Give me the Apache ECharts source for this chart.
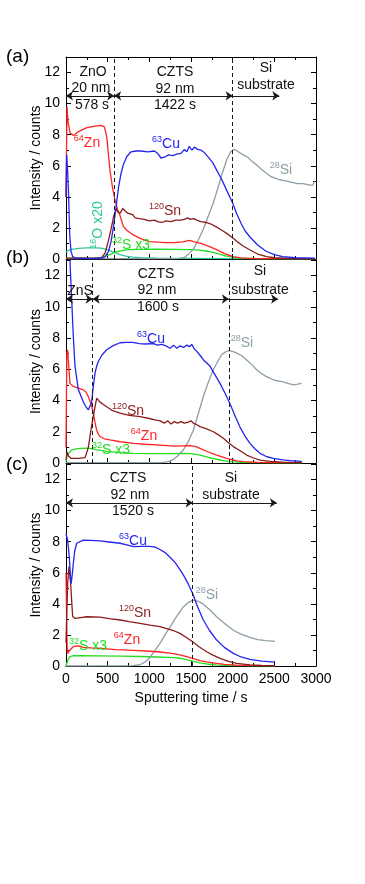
<!DOCTYPE html>
<html><head><meta charset="utf-8">
<script src="https://cdn.jsdelivr.net/npm/echarts@6/dist/echarts.min.js"></script>
<style>html,body{margin:0;padding:0;background:#fff}#c{width:365px;height:884px}</style>
</head><body><div id="c"></div>
<script>
// ---------------- data (sputtering time [s], intensity [counts]) ----------------
// panel (a) ZnO / CZTS / Si
const a_Zn = [[0,4.0],[12,9.8],[25,8.8],[50,8.1],[90,7.95],[150,8.2],[250,8.45],[350,8.55],[420,8.6],[460,8.5],[488,7.9],[528,5.7],[558,4.6],[588,3.8],[618,3.2],[648,2.8],[688,2.1],[728,1.85],[808,1.55],[888,1.33],[1000,1.12],[1100,1.08],[1200,1.05],[1300,1.06],[1400,1.1],[1480,1.2],[1540,1.1],[1620,1.0],[1700,0.85],[1808,0.6],[1900,0.35],[2008,0.15],[2100,0.07],[2250,0.03],[2500,0.02],[2985,0.02]];
const a_Cu = [[0,4.0],[8,6.7],[20,5.6],[30,4.3],[45,1.5],[60,0.5],[80,0.15],[120,0.05],[300,0.03],[430,0.05],[470,0.15],[510,0.5],[540,1.1],[570,2.1],[600,3.3],[630,4.6],[660,5.5],[690,6.1],[730,6.6],[780,6.9],[840,6.95],[900,6.95],[980,6.9],[1060,6.95],[1100,6.8],[1140,6.5],[1180,6.55],[1230,6.7],[1280,6.65],[1330,6.75],[1380,6.8],[1420,7.05],[1450,6.9],[1480,7.25],[1510,7.0],[1540,7.2],[1580,7.05],[1620,7.0],[1660,6.85],[1700,6.6],[1760,6.2],[1810,5.7],[1870,5.1],[1930,4.4],[2000,3.6],[2050,2.9],[2100,2.3],[2150,1.8],[2210,1.4],[2300,0.9],[2400,0.5],[2500,0.28],[2600,0.15],[2750,0.08],[2985,0.05]];
const a_Sn = [[0,0.05],[380,0.05],[430,0.1],[470,0.4],[510,1.2],[540,1.9],[570,2.7],[600,3.25],[625,3.0],[650,2.95],[680,3.25],[700,3.15],[740,2.95],[800,2.85],[830,2.65],[880,2.6],[940,2.55],[1000,2.45],[1060,2.5],[1100,2.4],[1150,2.35],[1200,2.45],[1260,2.4],[1320,2.5],[1380,2.5],[1420,2.55],[1460,2.65],[1490,2.55],[1530,2.6],[1570,2.5],[1620,2.4],[1680,2.35],[1740,2.25],[1808,2.05],[1870,1.85],[1928,1.65],[2008,1.33],[2060,1.1],[2120,0.85],[2208,0.58],[2300,0.32],[2408,0.15],[2500,0.08],[2700,0.04],[2985,0.03]];
const a_Si = [[0,0.02],[1350,0.02],[1420,0.1],[1470,0.3],[1530,0.65],[1590,1.25],[1650,1.95],[1710,2.8],[1770,3.65],[1830,4.7],[1880,5.6],[1930,6.4],[1970,6.85],[2010,7.05],[2040,7.0],[2080,6.85],[2130,6.7],[2180,6.55],[2240,6.25],[2290,6.05],[2350,5.75],[2410,5.5],[2460,5.3],[2510,5.2],[2560,5.1],[2620,5.05],[2700,4.95],[2780,4.85],[2850,4.85],[2920,4.75],[2960,4.75],[2985,5.0]];
const a_O  = [[0,0.45],[50,0.6],[150,0.68],[250,0.72],[350,0.72],[420,0.7],[480,0.62],[540,0.5],[600,0.38],[660,0.27],[720,0.18],[800,0.12],[900,0.08],[1100,0.05],[1500,0.04],[2000,0.03],[2985,0.02]];
const a_S  = [[0,0.05],[350,0.05],[420,0.08],[480,0.2],[540,0.32],[600,0.45],[680,0.55],[760,0.6],[900,0.62],[1100,0.63],[1300,0.62],[1500,0.6],[1600,0.57],[1700,0.5],[1808,0.36],[1900,0.22],[2008,0.1],[2100,0.05],[2300,0.03],[2985,0.02]];
const a_layers = [578, 2000];      // interface times (dashed lines)
const a_siArrowEnd = 2560;

// panel (b) ZnS / CZTS / Si
const b_Cu = [[0,15],[40,14],[55,12],[68,10.5],[88,8.1],[108,6.2],[148,4.7],[208,3.9],[240,3.6],[268,3.4],[290,3.5],[308,3.9],[325,4.8],[348,5.75],[368,6.2],[388,6.5],[430,6.9],[488,7.25],[560,7.5],[648,7.7],[720,7.72],[800,7.72],[880,7.65],[960,7.62],[1050,7.65],[1100,7.55],[1150,7.6],[1200,7.5],[1250,7.35],[1290,7.55],[1330,7.35],[1370,7.5],[1410,7.4],[1450,7.55],[1480,7.45],[1510,7.6],[1540,7.3],[1570,7.15],[1608,6.9],[1650,6.6],[1690,6.4],[1728,6.2],[1770,5.8],[1810,5.45],[1848,5.1],[1910,4.45],[1968,3.8],[2030,3.0],[2088,2.3],[2150,1.7],[2208,1.26],[2270,0.9],[2328,0.62],[2410,0.4],[2488,0.3],[2600,0.2],[2688,0.15],[2828,0.1]];
const b_Sn = [[0,0.2],[12,0.7],[30,0.45],[60,0.3],[150,0.3],[230,0.35],[248,0.45],[268,1.0],[288,1.7],[308,2.4],[328,3.0],[348,3.6],[368,4.15],[388,4.05],[408,3.9],[448,3.75],[488,3.6],[560,3.35],[648,3.2],[760,3.05],[888,2.97],[1000,2.85],[1080,2.75],[1130,2.7],[1180,2.55],[1220,2.7],[1260,2.5],[1300,2.65],[1340,2.55],[1380,2.65],[1420,2.55],[1460,2.6],[1500,2.7],[1530,2.55],[1570,2.45],[1608,2.33],[1680,2.2],[1768,2.0],[1830,1.8],[1888,1.58],[1950,1.3],[2008,1.05],[2090,0.78],[2168,0.51],[2250,0.32],[2328,0.19],[2450,0.1],[2600,0.06],[2828,0.04]];
const b_Zn = [[0,1.0],[10,7.0],[20,7.25],[35,6.0],[48,5.1],[88,4.9],[150,4.8],[208,4.68],[240,4.55],[268,4.25],[300,3.8],[328,3.2],[348,2.6],[368,2.1],[388,1.85],[408,1.7],[460,1.55],[528,1.48],[650,1.36],[808,1.26],[950,1.2],[1128,1.15],[1300,1.08],[1400,1.1],[1500,1.12],[1560,1.05],[1608,0.94],[1700,0.72],[1808,0.51],[1900,0.35],[1968,0.24],[2050,0.14],[2128,0.09],[2300,0.04],[2500,0.03],[2828,0.02]];
const b_S  = [[0,0.1],[15,0.5],[28,0.62],[68,0.83],[120,0.9],[168,0.94],[268,0.95],[368,0.85],[488,0.75],[650,0.66],[808,0.62],[1000,0.6],[1200,0.6],[1400,0.62],[1500,0.6],[1608,0.51],[1700,0.38],[1808,0.24],[1900,0.14],[1968,0.09],[2100,0.04],[2300,0.02],[2828,0.01]];
const b_Si = [[0,0.02],[1150,0.03],[1248,0.1],[1330,0.4],[1408,0.83],[1470,1.4],[1528,2.1],[1590,3.2],[1648,4.26],[1710,5.2],[1768,5.97],[1820,6.5],[1868,6.93],[1910,7.1],[1948,7.19],[2000,7.15],[2048,7.04],[2100,6.9],[2168,6.6],[2230,6.3],[2288,5.97],[2340,5.75],[2400,5.55],[2448,5.43],[2500,5.3],[2560,5.25],[2608,5.2],[2660,5.1],[2700,5.05],[2728,5.0],[2780,5.05],[2828,5.1]];
const b_layers = [320, 1955];
const b_siArrowEnd = 2545;

// panel (c) CZTS / Si
const c_Cu = [[0,8.5],[20,8.1],[40,7.0],[55,5.6],[62,5.3],[75,5.9],[88,6.6],[105,7.4],[128,7.9],[208,8.1],[300,8.08],[408,8.05],[520,7.98],[648,7.9],[730,7.8],[808,7.68],[900,7.7],[1008,7.7],[1070,7.65],[1128,7.5],[1190,7.3],[1248,7.0],[1310,6.65],[1368,6.2],[1420,5.75],[1470,5.25],[1520,4.67],[1580,3.8],[1648,2.96],[1720,2.3],[1808,1.67],[1900,1.2],[2008,0.81],[2100,0.58],[2208,0.43],[2350,0.32],[2508,0.25]];
const c_Sn = [[0,1.5],[10,3.5],[20,5.3],[36,6.4],[56,5.3],[70,4.0],[80,3.2],[108,3.06],[180,3.12],[248,3.17],[408,3.15],[520,3.05],[648,2.96],[760,2.85],[888,2.74],[1008,2.63],[1128,2.53],[1200,2.42],[1280,2.3],[1368,2.1],[1440,1.85],[1520,1.56],[1600,1.22],[1688,0.92],[1770,0.68],[1848,0.49],[1950,0.3],[2048,0.17],[2208,0.07],[2350,0.04],[2508,0.03]];
const c_Zn = [[0,6.0],[8,3.0],[16,0.8],[30,0.9],[48,1.03],[90,1.25],[128,1.29],[170,1.27],[208,1.2],[300,1.16],[408,1.13],[600,1.05],[808,1.0],[1008,0.95],[1128,0.9],[1248,0.83],[1368,0.72],[1448,0.6],[1528,0.47],[1608,0.35],[1688,0.26],[1808,0.17],[1900,0.11],[2048,0.06],[2250,0.03],[2508,0.02]];
const c_S  = [[0,0],[10,0.2],[28,0.45],[48,0.6],[88,0.66],[168,0.66],[408,0.65],[650,0.63],[888,0.61],[1100,0.58],[1288,0.54],[1368,0.5],[1448,0.41],[1528,0.3],[1608,0.2],[1688,0.13],[1800,0.07],[1900,0.04],[2100,0.02],[2508,0.01]];
const c_Si = [[0,0],[700,0.01],[800,0.03],[888,0.08],[960,0.3],[1008,0.55],[1068,1.0],[1128,1.46],[1188,2.0],[1248,2.5],[1328,3.2],[1408,3.8],[1470,4.1],[1528,4.24],[1580,4.18],[1648,3.98],[1728,3.6],[1808,3.17],[1900,2.75],[2008,2.3],[2100,2.05],[2208,1.84],[2300,1.7],[2400,1.63],[2508,1.59]];
const c_layers = [1520];
const c_siArrowEnd = 2530;

const xTicks = {min:0, max:3000, interval:500};
const yTicks = {min:0, max:13, interval:2};

// ---------------- styling / building ----------------
const FONT = '"Liberation Sans", Arial, sans-serif';
const COL = {Cu:'#2424ee', Zn:'#ff2424', Sn:'#8b1c1c', Si:'#8c9ea6', O:'#2fc89a', S:'#22dd22', ink:'#1a1a1a'};
const ARROW_Y = 10.5;

const grids = [
  {left:66, right:49, top:57, height:202},
  {left:66, right:49, top:260, height:203},
  {left:66, right:49, top:464, height:202}
];

function xAx(gi, extra) {
  return Object.assign({
    type:'value', gridIndex:gi, min:xTicks.min, max:xTicks.max, interval:xTicks.interval,
    axisLine:{show:true, onZero:false, lineStyle:{color:'#000', width:1}},
    axisTick:{show:true, inside:true, length:5, lineStyle:{color:'#000'}},
    minorTick:{show:true, splitNumber:2, length:3, lineStyle:{color:'#000'}},
    splitLine:{show:false}, minorSplitLine:{show:false},
    axisLabel:{show:false}
  }, extra || {});
}
function yAx(gi, right) {
  return {
    type:'value', gridIndex:gi, min:yTicks.min, max:yTicks.max, interval:yTicks.interval,
    position: right ? 'right' : 'left',
    axisLine:{show:true, onZero:false, lineStyle:{color:'#000', width:1}},
    axisTick:{show:true, inside:true, length:5, lineStyle:{color:'#000'}},
    minorTick:{show:true, splitNumber:2, length:3, lineStyle:{color:'#000'}},
    splitLine:{show:false}, minorSplitLine:{show:false},
    axisLabel: right ? {show:false} : {show:true, fontSize:14, color:'#000', fontFamily:FONT, margin:6, showMaxLabel:false,
      formatter: v => (v > 12.5 ? '' : String(v))},
    name: right ? '' : 'Intensity / counts', nameLocation:'middle', nameGap:23, nameMoveOverlap:false,
    nameTextStyle:{fontSize:14, color:'#000', fontFamily:FONT}
  };
}

const xAxis = [
  xAx(0),
  xAx(0, {position:'top'}),
  xAx(1),
  xAx(2, {axisLabel:{show:true, fontSize:14, color:'#000', fontFamily:FONT, margin:6, formatter: v => String(v)},
          name:'Sputtering time / s', nameLocation:'middle', nameGap:25, nameMoveOverlap:false,
          nameTextStyle:{fontSize:14, color:'#000', fontFamily:FONT}})
];
const yAxis = [yAx(0,false), yAx(0,true), yAx(1,false), yAx(1,true), yAx(2,false), yAx(2,true)];
const AX = [{x:0,y:0},{x:2,y:2},{x:3,y:4}];

function ln(data, color, p) {
  return {type:'line', data, xAxisIndex:AX[p].x, yAxisIndex:AX[p].y, showSymbol:false, symbol:'none',
    lineStyle:{color, width:1.3}, itemStyle:{color}, silent:true, clip:true, z:3};
}
function txt(t, v, sup, main, color, extra) {
  const rich = {
    s:{fontSize:9, color, fontFamily:FONT, verticalAlign:'top', lineHeight:10},
    m:{fontSize:14, color, fontFamily:FONT, lineHeight:18}
  };
  const label = Object.assign({show:true, position:'inside', color,
    formatter: sup ? '{s|' + sup + '}{m|' + main + '}' : '{m|' + main + '}', rich}, extra || {});
  return {coord:[t, v], symbol:'circle', symbolSize:1, itemStyle:{color:'rgba(0,0,0,0)'}, label};
}
function dashes(layers, p) {
  return {type:'line', data:[], xAxisIndex:AX[p].x, yAxisIndex:AX[p].y, silent:true,
    markLine:{silent:true, animation:false, symbol:['none','none'], label:{show:false},
      lineStyle:{color:COL.ink, type:[4,3], width:1},
      data: layers.map(t => [{coord:[t, yTicks.min]}, {coord:[t, yTicks.max]}])}};
}
function arrows(layers, siEnd, p) {
  const bounds = [0].concat(layers);
  const d = [];
  for (let i = 0; i < layers.length; i++) d.push([{coord:[bounds[i], ARROW_Y]}, {coord:[bounds[i+1], ARROW_Y]}]);
  d.push([{coord:[layers[layers.length-1], ARROW_Y], symbol:'none'}, {coord:[siEnd, ARROW_Y], symbol:'arrow'}]);
  return {type:'line', data:[], xAxisIndex:AX[p].x, yAxisIndex:AX[p].y, silent:true,
    markLine:{silent:true, animation:false, symbol:['arrow','arrow'], symbolSize:[7,7], label:{show:false},
      lineStyle:{color:COL.ink, type:'solid', width:1}, data:d}};
}
function labels(items, p) {
  return {type:'line', data:[], xAxisIndex:AX[p].x, yAxisIndex:AX[p].y, silent:true,
    markPoint:{silent:true, animation:false, data:items}};
}

const K = '#111';
const series = [
  // (a)
  ln(a_O, COL.O, 0), ln(a_S, COL.S, 0), ln(a_Si, COL.Si, 0), ln(a_Zn, COL.Zn, 0), ln(a_Sn, COL.Sn, 0), ln(a_Cu, COL.Cu, 0),
  dashes(a_layers, 0), arrows(a_layers, a_siArrowEnd, 0),
  labels([
    txt(324, 12.03, null, 'ZnO', K), txt(300, 11.0, null, '20 nm', K), txt(312, 9.9, null, '578 s', K),
    txt(1308, 12.03, null, 'CZTS', K), txt(1308, 10.93, null, '92 nm', K), txt(1308, 9.9, null, '1422 s', K),
    txt(2400, 12.28, null, 'Si', K), txt(2400, 11.19, null, 'substrate', K),
    txt(252, 7.46, '64', 'Zn', COL.Zn), txt(1200, 7.4, '63', 'Cu', COL.Cu),
    txt(1188, 3.09, '120', 'Sn', COL.Sn), txt(2580, 5.72, '28', 'Si', COL.Si),
    txt(384, 2.19, '16', 'O x20', COL.O, {rotate:90}), txt(780, 0.9, '32', 'S x3', COL.S)
  ], 0),
  // (b)
  ln(b_S, COL.S, 1), ln(b_Si, COL.Si, 1), ln(b_Zn, COL.Zn, 1), ln(b_Sn, COL.Sn, 1), ln(b_Cu, COL.Cu, 1),
  dashes(b_layers, 1), arrows(b_layers, b_siArrowEnd, 1),
  labels([
    txt(168, 10.98, null, 'ZnS', K),
    txt(1080, 12.07, null, 'CZTS', K), txt(1092, 11.04, null, '92 nm', K), txt(1104, 9.95, null, '1600 s', K),
    txt(2328, 12.26, null, 'Si', K), txt(2328, 11.1, null, 'substrate', K),
    txt(1020, 7.96, '63', 'Cu', COL.Cu), txt(744, 3.34, '120', 'Sn', COL.Sn),
    txt(936, 1.73, '64', 'Zn', COL.Zn), txt(540, 0.83, '32', 'S x3', COL.S), txt(2112, 7.7, '28', 'Si', COL.Si)
  ], 1),
  // (c)
  ln(c_S, COL.S, 2), ln(c_Si, COL.Si, 2), ln(c_Zn, COL.Zn, 2), ln(c_Sn, COL.Sn, 2), ln(c_Cu, COL.Cu, 2),
  dashes(c_layers, 2), arrows(c_layers, c_siArrowEnd, 2),
  labels([
    txt(744, 12.08, null, 'CZTS', K), txt(768, 10.99, null, '92 nm', K), txt(804, 9.96, null, '1520 s', K),
    txt(1980, 12.08, null, 'Si', K), txt(1980, 10.99, null, 'substrate', K),
    txt(804, 8.03, '63', 'Cu', COL.Cu), txt(828, 3.41, '120', 'Sn', COL.Sn),
    txt(732, 1.67, '64', 'Zn', COL.Zn), txt(264, 1.29, '32', 'S x3', COL.S), txt(1692, 4.56, '28', 'Si', COL.Si)
  ], 2)
];

const chart = echarts.init(document.getElementById('c'), null, {renderer:'canvas'});
chart.setOption({
  animation:false,
  backgroundColor:'#fff',
  textStyle:{fontFamily:FONT},
  grid: grids,
  xAxis, yAxis, series,
  graphic:[
    {type:'text', left:6, top:47, style:{text:'(a)', font:'19px "Liberation Sans", Arial', fill:'#000'}},
    {type:'text', left:6, top:248, style:{text:'(b)', font:'19px "Liberation Sans", Arial', fill:'#000'}},
    {type:'text', left:6, top:455, style:{text:'(c)', font:'19px "Liberation Sans", Arial', fill:'#000'}}
  ]
});
</script></body></html>
